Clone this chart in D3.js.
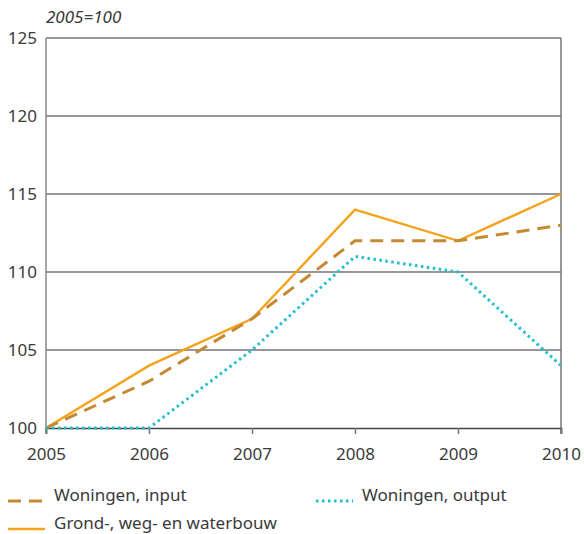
<!DOCTYPE html>
<html>
<head>
<meta charset="utf-8">
<script src="https://cdn.jsdelivr.net/npm/d3@7"></script>
<style>
  body { margin: 0; background: #fff; }
  svg { font-family: "Noto Sans", "Open Sans", sans-serif; }
</style>
</head>
<body>
<svg id="chart" width="584" height="534"></svg>
<script>
// data
var years = [2005, 2006, 2007, 2008, 2009, 2010];
var woningen_input = [100, 103, 107, 112, 112, 113];
var grond_weg_water = [100, 104, 107, 114, 112, 115];
var woningen_output = [100, 100, 105, 111, 110, 104];
var y_ticks = [100, 105, 110, 115, 120, 125];

var series = [
    { name: "Grond-, weg- en waterbouw", values: grond_weg_water, color: "#f7a21b", dash: null, width: 2.4 },
    { name: "Woningen, input", values: woningen_input, color: "#c48a32", dash: "13,8", width: 3 },
    { name: "Woningen, output", values: woningen_output, color: "#1fbfc9", dash: "2.5,3.5", width: 3 }
];

var plot_left = 46, plot_right = 561, plot_top = 38, plot_bottom = 428;
var font_size = 17;
var text_color = "#3a3a3a";

var svg = d3.select("#chart");

var x = d3.scaleLinear().domain([2005, 2010]).range([plot_left, plot_right]);
var y = d3.scaleLinear().domain([100, 125]).range([plot_bottom, plot_top]);

// gridlines
svg.append("g")
    .selectAll("line")
    .data(y_ticks.filter(d => d > 100))
    .enter()
    .append("line")
    .attr("x1", plot_left)
    .attr("x2", plot_right)
    .attr("y1", d => y(d))
    .attr("y2", d => y(d))
    .attr("stroke", "#333")
    .attr("stroke-width", 1.2);

// left axis
svg.append("line")
    .attr("x1", plot_left).attr("x2", plot_left)
    .attr("y1", plot_top).attr("y2", plot_bottom + 6)
    .attr("stroke", "#888").attr("stroke-width", 1.5);
// right border
svg.append("line")
    .attr("x1", plot_right).attr("x2", plot_right)
    .attr("y1", plot_top).attr("y2", plot_bottom + 6)
    .attr("stroke", "#777").attr("stroke-width", 1.5);

// x axis
var xAxis = d3.axisBottom(x)
    .tickValues(years)
    .tickFormat(d3.format("d"))
    .tickSize(6)
    .tickPadding(14);

var gx = svg.append("g")
    .attr("transform", "translate(0," + plot_bottom + ")")
    .call(xAxis);
gx.select(".domain").attr("stroke", "#444").attr("stroke-width", 1.5);
gx.selectAll(".tick line").attr("stroke", "#777").attr("stroke-width", 1.5);
gx.selectAll(".tick text")
    .attr("font-size", font_size)
    .attr("fill", text_color)
    .attr("font-family", "Noto Sans");

// y labels
var yAxis = d3.axisLeft(y)
    .tickValues(y_ticks)
    .tickSize(0)
    .tickPadding(9);
var gy = svg.append("g")
    .attr("transform", "translate(" + plot_left + ",0)")
    .call(yAxis);
gy.select(".domain").remove();
gy.selectAll(".tick text")
    .attr("font-size", font_size)
    .attr("fill", text_color)
    .attr("font-family", "Noto Sans");

// title
svg.append("text")
    .attr("x", 46)
    .attr("y", 23)
    .attr("font-size", 17)
    .attr("font-style", "italic")
    .attr("fill", text_color)
    .text("2005=100");

// lines
var line = d3.line()
    .x((d, i) => x(years[i]))
    .y(d => y(d));

svg.append("g")
    .selectAll("path")
    .data(series)
    .enter()
    .append("path")
    .attr("d", d => line(d.values))
    .attr("fill", "none")
    .attr("stroke", d => d.color)
    .attr("stroke-width", d => d.width)
    .attr("stroke-dasharray", d => d.dash);

// legend
var legend_items = [
    { s: series[1], x: 8, y: 496 },
    { s: series[2], x: 316, y: 496 },
    { s: series[0], x: 8, y: 524 }
];

var lg = svg.append("g")
    .selectAll("g")
    .data(legend_items)
    .enter()
    .append("g")
    .attr("transform", d => "translate(" + d.x + "," + d.y + ")");

lg.append("line")
    .attr("x1", 0).attr("x2", 37)
    .attr("y1", 5).attr("y2", 5)
    .attr("stroke", d => d.s.color)
    .attr("stroke-width", d => d.s.width)
    .attr("stroke-dasharray", d => d.s.dash);

lg.append("text")
    .attr("x", 46)
    .attr("y", 5)
    .attr("font-size", font_size)
    .attr("fill", text_color)
    .text(d => d.s.name);
</script>
</body>
</html>
